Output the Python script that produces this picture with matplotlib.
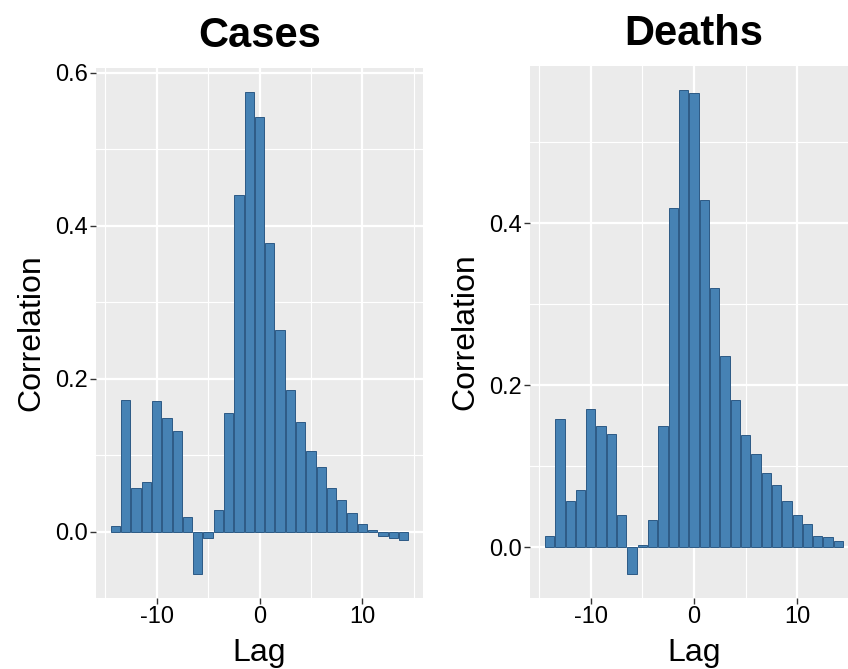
import matplotlib
matplotlib.use("Agg")
import matplotlib.pyplot as plt
import numpy as np

plt.rcParams['font.family'] = ['Liberation Sans', 'DejaVu Sans']

lags = list(range(-14, 15))

cases = [0.008, 0.173, 0.057, 0.065, 0.171, 0.149, 0.132, 0.020, -0.055, -0.008,
         0.029, 0.156, 0.440, 0.575, 0.542, 0.378, 0.264, 0.185, 0.143, 0.106,
         0.085, 0.057, 0.041, 0.024, 0.010, 0.003, -0.006, -0.008, -0.011]

deaths = [0.014, 0.158, 0.057, 0.071, 0.171, 0.150, 0.140, 0.039, -0.033, 0.003,
          0.033, 0.150, 0.419, 0.564, 0.560, 0.428, 0.320, 0.236, 0.181, 0.138,
          0.115, 0.092, 0.077, 0.057, 0.039, 0.029, 0.014, 0.012, 0.007]

titles = ["Cases", "Deaths"]
y_major = [[0.0, 0.2, 0.4, 0.6], [0.0, 0.2, 0.4]]

W, H = 848, 669
fig = plt.figure(figsize=(W / 100, H / 100), dpi=100)

# panel boxes in pixels: left, top, right, bottom
boxes = [(96, 68, 423, 598), (530, 66, 858, 598)]

for k, vals in enumerate([cases, deaths]):
    l, t, r, b = boxes[k]
    ax = fig.add_axes([l / W, (H - b) / H, (r - l) / W, (b - t) / H])
    ax.set_facecolor('#EBEBEB')
    for s in ax.spines.values():
        s.set_visible(False)

    ax.bar(lags, vals, width=0.9, color='#4682B4', edgecolor='#2c5a85',
           linewidth=0.7, zorder=3)

    # ggplot-like expansion
    x0, x1 = min(lags) - 0.45, max(lags) + 0.45
    dx = (x1 - x0) * 0.05
    ax.set_xlim(x0 - dx, x1 + dx)
    lo, hi = min(0, min(vals)), max(vals)
    dy = (hi - lo) * 0.05
    ax.set_ylim(lo - dy, hi + dy)

    ax.set_xticks([-10, 0, 10])
    ax.set_xticks([-15, -5, 5, 15], minor=True)
    ax.set_yticks(y_major[k])
    ax.set_yticks([0.1, 0.3, 0.5], minor=True)
    ax.set_xticklabels(['-10', '0', '10'])
    ax.set_yticklabels(['%.1f' % v for v in y_major[k]])

    ax.grid(which='major', color='white', linewidth=1.6, zorder=0)
    ax.grid(which='minor', color='white', linewidth=0.8, zorder=0)
    ax.tick_params(which='major', length=4, width=1, color='#333333',
                   labelsize=17, labelcolor='black', pad=2)
    ax.tick_params(which='minor', length=0)

    ax.set_xlabel('Lag', fontsize=23, labelpad=7)
    ax.set_ylabel('Correlation', fontsize=23, labelpad=6)
    ax.set_title(titles[k], fontsize=30, fontweight='bold', pad=15)

fig.savefig('out.png', dpi=100)
